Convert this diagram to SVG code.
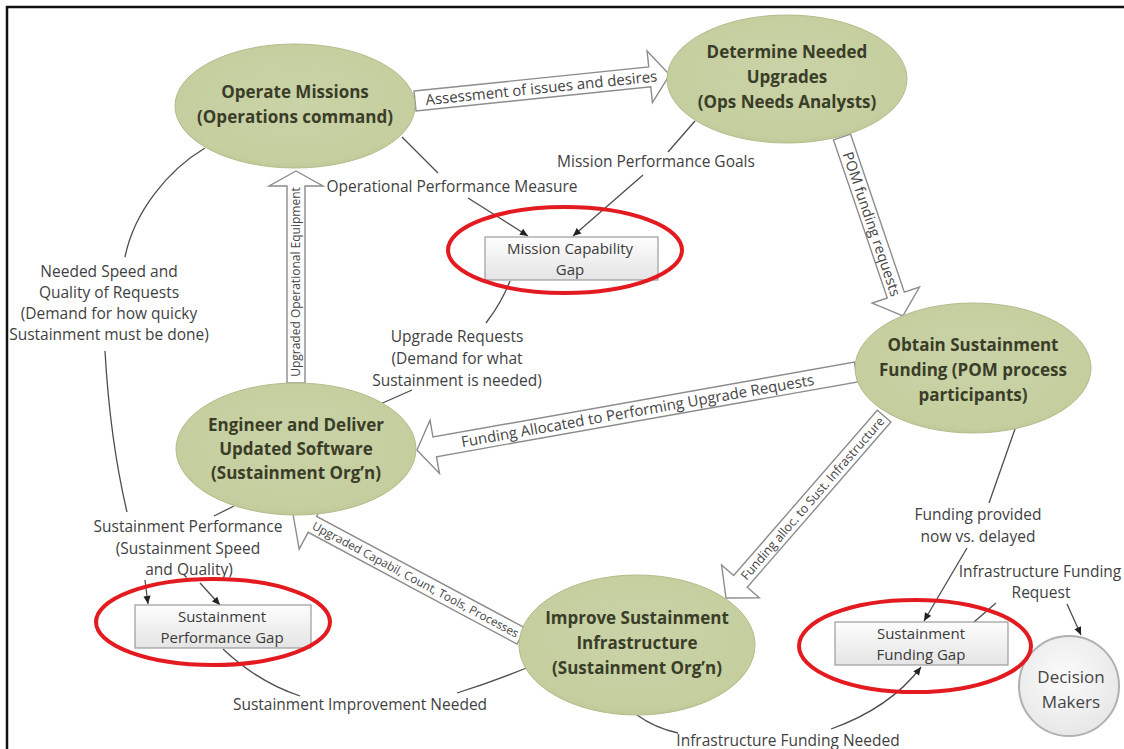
<svg xmlns="http://www.w3.org/2000/svg" width="1124" height="749" viewBox="0 0 1124 749">
<defs>
  <marker id="ah" viewBox="0 0 10 10" refX="10" refY="5" markerWidth="9" markerHeight="8" markerUnits="userSpaceOnUse" orient="auto">
    <path d="M0,0.5 L10,5 L0,9.5 z" fill="#222"/>
  </marker>
  <linearGradient id="gapg" x1="0" y1="0" x2="0" y2="1">
    <stop offset="0" stop-color="#fdfdfd"/>
    <stop offset="1" stop-color="#e4e4e4"/>
  </linearGradient>
  <radialGradient id="dmg" cx="0.45" cy="0.4" r="0.65">
    <stop offset="0" stop-color="#fbfbfb"/>
    <stop offset="1" stop-color="#e6e6e6"/>
  </radialGradient>
  <radialGradient id="ng" cx="0.5" cy="0.45" r="0.6">
    <stop offset="0" stop-color="#cad3a7"/>
    <stop offset="0.85" stop-color="#c4ce9e"/>
    <stop offset="1" stop-color="#b9c491"/>
  </radialGradient>
</defs>
<style>
  .node ellipse { fill: url(#ng); stroke: #b2bc8b; stroke-width: 1; }
  .nt { font-family: "Open Sans", "Liberation Sans", sans-serif; font-weight: bold; font-size: 17px; fill: #3a3d28; text-anchor: middle; }
  .lbl { font-family: "Open Sans", "Liberation Sans", sans-serif; font-size: 15.5px; fill: #3f3f3f; text-anchor: middle; }
  .blk { fill: #ffffff; stroke: #8c8c8c; stroke-width: 1.4; stroke-linejoin: miter; }
  .bt { font-family: "Open Sans", "Liberation Sans", sans-serif; fill: #444; text-anchor: middle; }
  .gap rect { fill: url(#gapg); stroke: #9c9c9c; stroke-width: 1.2; }
  .gt { font-family: "Open Sans", "Liberation Sans", sans-serif; font-size: 15px; fill: #3a3a3a; text-anchor: middle; }
  .dt { font-family: "Open Sans", "Liberation Sans", sans-serif; font-size: 17px; fill: #444; text-anchor: middle; }
  .red { fill: none; stroke: #e31b20; stroke-width: 4; }
  .ln { fill: none; stroke: #4d4d4d; stroke-width: 1.3; }
  .arr { marker-end: url(#ah); }
</style>
<rect x="0" y="0" width="1124" height="749" fill="#ffffff"/>
<path d="M7,749 L7,7 L1124,7" fill="none" stroke="#111" stroke-width="2.5"/>

<g id="connectors">
  <g id="arrow-assessment" transform="translate(415,101) rotate(-5.87)">
    <polygon class="blk" points="0,-10 236,-10 236,-26 256,0 236,26 236,10 0,10"/>
    <text class="bt" x="127" y="0" dy=".35em" font-size="15">Assessment of issues and desires</text>
  </g>
  <g id="arrow-pom" transform="translate(842,137) rotate(71.2)">
    <polygon class="blk" points="0,-9 167,-9 167,-25 189,0 167,25 167,9 0,9"/>
    <text class="bt" x="92" y="0" dy=".35em" font-size="14.5">POM funding requests</text>
  </g>
  <g id="arrow-funding-allocated" transform="translate(417,450) rotate(-10.07)">
    <polygon class="blk" points="0,0 18,-27 18,-10 446,-10 446,10 18,10 18,27"/>
    <text class="bt" x="224" y="0" dy=".35em" font-size="15">Funding Allocated to Performing Upgrade Requests</text>
  </g>
  <g id="arrow-funding-infra" transform="translate(726,598) rotate(-49)">
    <polygon class="blk" points="0,0 22,-25 22,-9 241,-9 241,9 22,9 22,25"/>
    <text class="bt" x="132" y="0" dy=".35em" font-size="12.5">Funding alloc. to Sust. Infrastructure</text>
  </g>
  <g id="arrow-upgraded-capabil" transform="translate(293,514) rotate(28.15)">
    <polygon class="blk" points="0,0 22,-28 22,-9 259,-9 259,9 22,9 22,28"/>
    <text class="bt" x="139" y="0" dy=".35em" font-size="11.7">Upgraded Capabil, Count, Tools, Processes</text>
  </g>
  <g id="arrow-upgraded-equipment" transform="translate(296,383) rotate(-90)">
    <polygon class="blk" points="0,-9 197,-9 197,-27 212,0 197,27 197,9 0,9"/>
    <text class="bt" x="101" y="0" dy=".35em" font-size="12">Upgraded Operational Equipment</text>
  </g>

  <g id="c-op-measure">
    <path class="ln" d="M402,137 L438,173"/>
    <path class="ln arr" d="M468,198 L528,236"/>
    <text class="lbl" x="452" y="192">Operational Performance Measure</text>
  </g>
  <g id="c-mission-goals">
    <path class="ln" d="M695,121 L668,152"/>
    <path class="ln arr" d="M643,175 L573,236"/>
    <text class="lbl" x="656" y="167">Mission Performance Goals</text>
  </g>
  <g id="c-upgrade-requests">
    <path class="ln" d="M510,281 Q502,302 486,323"/>
    <path class="ln arr" d="M412,390 L360,413"/>
    <text class="lbl" x="457" y="342">Upgrade Requests</text>
    <text class="lbl" x="457" y="364">(Demand for what</text>
    <text class="lbl" x="457" y="386">Sustainment is needed)</text>
  </g>
  <g id="c-needed-speed">
    <path class="ln" d="M205,148 C168,170 134,212 125,257"/>
    <path class="ln" d="M105,351 Q110,440 127,512"/>
    <path class="ln arr" d="M145,580 L148,604"/>
    <text class="lbl" x="109" y="277">Needed Speed and</text>
    <text class="lbl" x="109" y="298">Quality of Requests</text>
    <text class="lbl" x="109" y="319">(Demand for how quicky</text>
    <text class="lbl" x="109" y="340">Sustainment must be done)</text>
  </g>
  <g id="c-sust-performance">
    <path class="ln" d="M234,506 L214,516"/>
    <path class="ln arr" d="M200,583 L220,605"/>
    <text class="lbl" x="188" y="532">Sustainment Performance</text>
    <text class="lbl" x="188" y="554">(Sustainment Speed</text>
    <text class="lbl" x="189" y="575">and Quality)</text>
  </g>
  <g id="c-sust-improvement">
    <path class="ln" d="M223,649 Q258,682 300,696"/>
    <path class="ln arr" d="M457,693 Q498,680 536,664"/>
    <text class="lbl" x="360" y="710">Sustainment Improvement Needed</text>
  </g>
  <g id="c-funding-provided">
    <path class="ln" d="M1015,429 L989,503"/>
    <path class="ln arr" d="M967,548 L924,621"/>
    <text class="lbl" x="978" y="520">Funding provided</text>
    <text class="lbl" x="978" y="542">now vs. delayed</text>
  </g>
  <g id="c-infra-request">
    <path class="ln" d="M974,622 L996,603"/>
    <path class="ln arr" d="M1067,604 L1081,635"/>
    <text class="lbl" x="1040" y="577">Infrastructure Funding</text>
    <text class="lbl" x="1041" y="598">Request</text>
  </g>
  <g id="c-infra-needed">
    <path class="ln" d="M637,715 Q655,728 678,733"/>
    <path class="ln arr" d="M831,729 Q890,708 921,667"/>
    <text class="lbl" x="788" y="746">Infrastructure Funding Needed</text>
  </g>
</g>

<g id="node-operate" class="node">
  <ellipse cx="295" cy="106" rx="120" ry="62"/>
  <text class="nt" x="295" y="98">Operate Missions</text>
  <text class="nt" x="295" y="123">(Operations command)</text>
</g>
<g id="node-determine" class="node">
  <ellipse cx="787" cy="79" rx="120" ry="64"/>
  <text class="nt" x="787" y="58">Determine Needed</text>
  <text class="nt" x="787" y="83">Upgrades</text>
  <text class="nt" x="787" y="108">(Ops Needs Analysts)</text>
</g>
<g id="node-obtain" class="node">
  <ellipse cx="973" cy="368" rx="118" ry="65"/>
  <text class="nt" x="973" y="351">Obtain Sustainment</text>
  <text class="nt" x="973" y="376">Funding (POM process</text>
  <text class="nt" x="973" y="401">participants)</text>
</g>
<g id="node-engineer" class="node">
  <ellipse cx="296" cy="449" rx="120" ry="66"/>
  <text class="nt" x="296" y="431">Engineer and Deliver</text>
  <text class="nt" x="296" y="455">Updated Software</text>
  <text class="nt" x="296" y="479">(Sustainment Org’n)</text>
</g>
<g id="node-improve" class="node">
  <ellipse cx="637" cy="645" rx="118" ry="70"/>
  <text class="nt" x="637" y="624">Improve Sustainment</text>
  <text class="nt" x="637" y="649">Infrastructure</text>
  <text class="nt" x="637" y="674">(Sustainment Org’n)</text>
</g>
<g id="node-decision">
  <circle cx="1069" cy="686" r="50" fill="url(#dmg)" stroke="#b0b0b0" stroke-width="2"/>
  <text class="dt" x="1071" y="683">Decision</text>
  <text class="dt" x="1071" y="708">Makers</text>
</g>

<g id="gap-mission" class="gap">
  <rect x="485" y="237" width="173" height="43"/>
  <text class="gt" x="570" y="254">Mission Capability</text>
  <text class="gt" x="570" y="275">Gap</text>
  <ellipse class="red" cx="565" cy="250" rx="117" ry="43"/>
</g>
<g id="gap-performance" class="gap">
  <rect x="135" y="605" width="176" height="43"/>
  <text class="gt" x="222" y="622">Sustainment</text>
  <text class="gt" x="222" y="643">Performance Gap</text>
  <ellipse class="red" cx="213" cy="622" rx="117" ry="43"/>
</g>
<g id="gap-funding" class="gap">
  <rect x="835" y="622" width="173" height="43"/>
  <text class="gt" x="921" y="639">Sustainment</text>
  <text class="gt" x="921" y="660">Funding Gap</text>
  <ellipse class="red" cx="915" cy="646" rx="116" ry="46"/>
</g>
</svg>
